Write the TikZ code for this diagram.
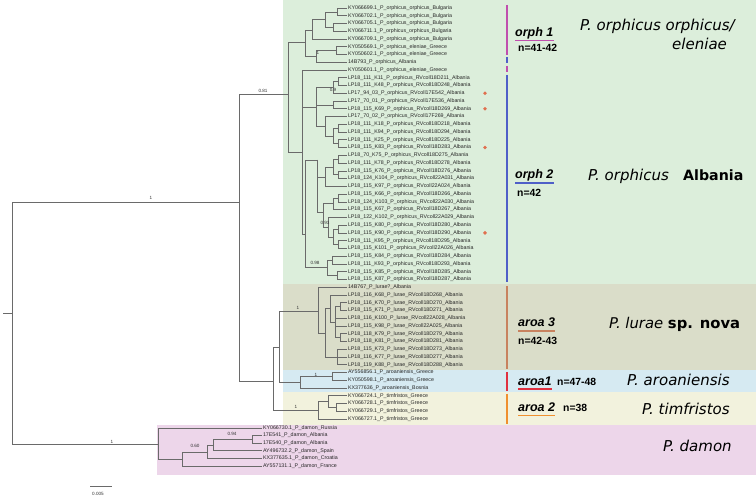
\documentclass[tikz,border=0pt]{standalone}
\usepackage{fontspec}
\setmainfont{Liberation Sans}
\newfontfamily\dvsans{DejaVu Sans}
\definecolor{brc}{HTML}{6A6A6A}
\definecolor{cgreen}{HTML}{DCEEDB}
\definecolor{ctan}{HTML}{DADDC9}
\definecolor{cblue}{HTML}{D6EAF2}
\definecolor{cyellow}{HTML}{F2F2DD}
\definecolor{cpink}{HTML}{EDD6EA}
\definecolor{cmag}{HTML}{C04FAE}
\definecolor{cblu}{HTML}{4F5FC8}
\definecolor{cbrown}{HTML}{C8825F}
\definecolor{cred}{HTML}{E0303F}
\definecolor{corange}{HTML}{F0902F}
\definecolor{cdot}{HTML}{E0704F}
\newcommand\lf[2]{\node[leaf] (L#1) at (347,{8+7.755*(#1-1)}) {#2}; \coordinate (t#1) at (L#1.west);}
\newcommand\lfd[3]{\node[leaf] (L#1) at (262,#2) {#3}; \coordinate (t#1) at (L#1.west);}
\newcommand\br[2]{\draw[br] (#1) |- (#2);}
\newcommand\nd[3]{\coordinate (#1) at (#2,#3);}
\begin{document}
\begin{tikzpicture}[x=1pt,y=-1pt,
  br/.style={draw=brc, line width=0.7pt},
  leaf/.style={anchor=west, inner sep=0.8pt, font=\fontsize{5.3}{6}\selectfont, text=black!85},
  suplab/.style={font=\fontsize{4.6}{5}\selectfont, inner sep=0pt, text=black!80},
  clade/.style={anchor=base west, inner sep=0pt, font=\bfseries\itshape\fontsize{12.5}{14}\selectfont},
  nlab/.style={anchor=base west, inner sep=0pt, font=\bfseries\fontsize{10.4}{12}\selectfont},
  spname/.style={anchor=base west, inner sep=0pt, font=\dvsans\itshape\fontsize{15}{17}\selectfont},
  bar/.style={line width=1.6pt},
  uline/.style={line width=1.2pt}]
\useasboundingbox (0,0) rectangle (756,497);
% backgrounds
\fill[cgreen] (283,0) rectangle (756,284);
\fill[ctan] (283,284) rectangle (756,370.5);
\fill[cblue] (283,370.5) rectangle (756,392.5);
\fill[cyellow] (283,392.5) rectangle (756,425.5);
\fill[cpink] (157,425.5) rectangle (756,475);
% leaves
\lf{1}{KY066699.1\_P\_orphicus\_orphicus\_Bulgaria}
\lf{2}{KY066702.1\_P\_orphicus\_orphicus\_Bulgaria}
\lf{3}{KY066705.1\_P\_orphicus\_orphicus\_Bulgaria}
\lf{4}{KY066711.1\_P\_orphicus\_orphicus\_Bulgaria}
\lf{5}{KY066709.1\_P\_orphicus\_orphicus\_Bulgaria}
\lf{6}{KY050569.1\_P\_orphicus\_eleniae\_Greece}
\lf{7}{KY050602.1\_P\_orphicus\_eleniae\_Greece}
\lf{8}{14B793\_P\_orphicus\_Albania}
\lf{9}{KY050601.1\_P\_orphicus\_eleniae\_Greece}
\lf{10}{LP18\_111\_K11\_P\_orphicus\_RVcoll18D211\_Albania}
\lf{11}{LP18\_111\_K48\_P\_orphicus\_RVcoll18D248\_Albania}
\lf{12}{LP17\_94\_03\_P\_orphicus\_RVcoll17E542\_Albania}
\lf{13}{LP17\_70\_01\_P\_orphicus\_RVcoll17E536\_Albania}
\lf{14}{LP18\_115\_K69\_P\_orphicus\_RVcoll18D269\_Albania}
\lf{15}{LP17\_70\_02\_P\_orphicus\_RVcoll17F269\_Albania}
\lf{16}{LP18\_111\_K18\_P\_orphicus\_RVcoll18D218\_Albania}
\lf{17}{LP18\_111\_K94\_P\_orphicus\_RVcoll18D294\_Albania}
\lf{18}{LP18\_111\_K25\_P\_orphicus\_RVcoll18D225\_Albania}
\lf{19}{LP18\_115\_K83\_P\_orphicus\_RVcoll18D283\_Albania}
\lf{20}{LP18\_70\_K75\_P\_orphicus\_RVcoll18D275\_Albania}
\lf{21}{LP18\_111\_K78\_P\_orphicus\_RVcoll18D278\_Albania}
\lf{22}{LP18\_115\_K76\_P\_orphicus\_RVcoll18D276\_Albania}
\lf{23}{LP18\_124\_K104\_P\_orphicus\_RVcoll22A031\_Albania}
\lf{24}{LP18\_115\_K97\_P\_orphicus\_RVcoll22A024\_Albania}
\lf{25}{LP18\_115\_K66\_P\_orphicus\_RVcoll18D266\_Albania}
\lf{26}{LP18\_124\_K103\_P\_orphicus\_RVcoll22A030\_Albania}
\lf{27}{LP18\_115\_K67\_P\_orphicus\_RVcoll18D267\_Albania}
\lf{28}{LP18\_122\_K102\_P\_orphicus\_RVcoll22A029\_Albania}
\lf{29}{LP18\_115\_K80\_P\_orphicus\_RVcoll18D280\_Albania}
\lf{30}{LP18\_115\_K90\_P\_orphicus\_RVcoll18D290\_Albania}
\lf{31}{LP18\_111\_K95\_P\_orphicus\_RVcoll18D295\_Albania}
\lf{32}{LP18\_115\_K101\_P\_orphicus\_RVcoll22A026\_Albania}
\lf{33}{LP18\_115\_K84\_P\_orphicus\_RVcoll18D284\_Albania}
\lf{34}{LP18\_111\_K93\_P\_orphicus\_RVcoll18D293\_Albania}
\lf{35}{LP18\_115\_K85\_P\_orphicus\_RVcoll18D285\_Albania}
\lf{36}{LP18\_115\_K87\_P\_orphicus\_RVcoll18D287\_Albania}
\lf{37}{14B767\_P\_lurae?\_Albania}
\lf{38}{LP18\_116\_K68\_P\_lurae\_RVcoll18D268\_Albania}
\lf{39}{LP18\_116\_K70\_P\_lurae\_RVcoll18D270\_Albania}
\lf{40}{LP18\_115\_K71\_P\_lurae\_RVcoll18D271\_Albania}
\lf{41}{LP18\_116\_K100\_P\_lurae\_RVcoll22A028\_Albania}
\lf{42}{LP18\_115\_K98\_P\_lurae\_RVcoll22A025\_Albania}
\lf{43}{LP18\_118\_K79\_P\_lurae\_RVcoll18D279\_Albania}
\lf{44}{LP18\_118\_K81\_P\_lurae\_RVcoll18D281\_Albania}
\lf{45}{LP18\_115\_K73\_P\_lurae\_RVcoll18D273\_Albania}
\lf{46}{LP18\_116\_K77\_P\_lurae\_RVcoll18D277\_Albania}
\lf{47}{LP18\_119\_K88\_P\_lurae\_RVcoll18D288\_Albania}
\lf{48}{AY556856.1\_P\_aroaniensis\_Greece}
\lf{49}{KY050598.1\_P\_aroaniensis\_Greece}
\lf{50}{KX377636\_P\_aroaniensis\_Bosnia}
\lf{51}{KY066724.1\_P\_timfristos\_Greece}
\lf{52}{KY066728.1\_P\_timfristos\_Greece}
\lf{53}{KY066729.1\_P\_timfristos\_Greece}
\lf{54}{KY066727.1\_P\_timfristos\_Greece}
\lfd{55}{428}{KY066730.1\_P\_damon\_Russia}
\lfd{56}{435.6}{17E541\_P\_damon\_Albania}
\lfd{57}{443.2}{17E540\_P\_damon\_Albania}
\lfd{58}{450.8}{AY496732.2\_P\_damon\_Spain}
\lfd{59}{458.4}{KX377635.1\_P\_damon\_Croatia}
\lfd{60}{466}{AY557131.1\_P\_damon\_France}
% internal nodes
\nd{R0}{3}{313} \nd{R}{12}{313}
\nd{I}{239}{202}
\nd{O}{288}{94}
\nd{T}{305}{42}
\nd{G15}{312}{30}
\nd{G1234}{325}{19.6}
\nd{G12}{337}{11.9}
\nd{G34}{333}{27.4}
\nd{G678}{316}{56.5}
\nd{G67}{336}{50.7}
\nd{B}{302}{152}
\nd{X}{316}{107}
\nd{Q1}{333}{87.5}
\nd{Q1a}{338}{81.7}
\nd{Q2}{333}{104.9}
\nd{Y}{325}{126.3}
\nd{Z}{333}{136}
\nd{Q3}{338}{128.2}
\nd{Q4}{338}{143.7}
\nd{C}{305}{234}
\nd{U}{317}{160}
\nd{V}{325}{177}
\nd{W}{333}{167}
\nd{Q5}{338}{159.2}
\nd{Q6}{338}{174.7}
\nd{R1}{323}{212}
\nd{S}{333}{203.8}
\nd{Q7}{338}{198}
\nd{R2}{328}{227.2}
\nd{M}{333}{237}
\nd{Q8}{338}{229}
\nd{Q9}{338}{244.5}
\nd{P2}{327}{267}
\nd{P2a}{332}{260}
\nd{P2b}{337}{275.5}
\nd{AC}{273}{381}
\nd{LA}{279}{347.5}
\nd{L}{318}{311}
\nd{L2}{325}{333}
\nd{L3}{330}{308.5}
\nd{L3a}{335}{322}
\nd{L3b}{340}{306.6}
\nd{L4a}{340}{337.6}
\nd{L4}{337}{357}
\nd{ARO}{300}{382}
\nd{AA}{332}{376.4}
\nd{TIM}{318}{410.3}
\nd{T1}{328}{401.6}
\nd{T2}{336}{407.4}
\nd{D}{158}{444}
\nd{D3}{182}{459}
\nd{D4}{207}{452}
\nd{D5}{213}{445.4}
\nd{D6}{252}{439.7}
% branches
\draw[br] (R0) -- (R);
\br{R}{I} \br{R}{D}
\br{I}{O} \br{I}{AC}
\br{O}{T} \br{O}{B}
\br{T}{G15} \br{T}{G678}
\br{G15}{G1234} \br{G15}{t5}
\br{G1234}{G12} \br{G1234}{G34}
\br{G12}{t1} \br{G12}{t2} \br{G34}{t3} \br{G34}{t4}
\br{G678}{G67} \br{G678}{t8} \br{G67}{t6} \br{G67}{t7}
\br{B}{t9} \br{B}{X} \br{B}{C}
\br{X}{Q1} \br{X}{Q2} \br{X}{Y}
\br{Q1}{Q1a} \br{Q1}{t12} \br{Q1a}{t10} \br{Q1a}{t11}
\br{Q2}{t13} \br{Q2}{t14}
\br{Y}{t15} \br{Y}{Z}
\br{Z}{Q3} \br{Z}{Q4} \br{Q3}{t16} \br{Q3}{t17} \br{Q4}{t18} \br{Q4}{t19}
\br{C}{U} \br{C}{P2}
\br{U}{V} \br{U}{R1}
\br{V}{W} \br{V}{t24}
\br{W}{Q5} \br{W}{Q6} \br{Q5}{t20} \br{Q5}{t21} \br{Q6}{t22} \br{Q6}{t23}
\br{R1}{S} \br{R1}{R2}
\br{S}{Q7} \br{S}{t27} \br{Q7}{t25} \br{Q7}{t26}
\br{R2}{t28} \br{R2}{M}
\br{M}{Q8} \br{M}{Q9} \br{Q8}{t29} \br{Q8}{t30} \br{Q9}{t31} \br{Q9}{t32}
\br{P2}{P2a} \br{P2}{P2b} \br{P2a}{t33} \br{P2a}{t34} \br{P2b}{t35} \br{P2b}{t36}
\br{AC}{LA} \br{AC}{TIM}
\br{LA}{L} \br{LA}{ARO}
\br{L}{t37} \br{L}{L2}
\br{L2}{L3} \br{L2}{L4}
\br{L3}{t38} \br{L3}{L3a}
\br{L3a}{L3b} \br{L3a}{t41} \br{L3a}{t42} \br{L3a}{L4a}
\br{L3b}{t39} \br{L3b}{t40} \br{L4a}{t43} \br{L4a}{t44}
\br{L4}{t45} \br{L4}{t46} \br{L4}{t47}
\br{ARO}{AA} \br{ARO}{t50} \br{AA}{t48} \br{AA}{t49}
\br{TIM}{T1} \br{TIM}{t54} \br{T1}{t51} \br{T1}{T2} \br{T2}{t52} \br{T2}{t53}
\br{D}{t55} \br{D}{D3}
\br{D3}{D4} \br{D3}{t60}
\br{D4}{D5} \br{D4}{t59}
\br{D5}{D6} \br{D5}{t58}
\br{D6}{t56} \br{D6}{t57}
% support values
\node[suplab] at (151,198) {1};
\node[suplab] at (263,91) {0.81};
\node[suplab] at (318,53) {1};
\node[suplab] at (333,90) {0.9};
\node[suplab] at (325,223) {0.93};
\node[suplab] at (315,263) {0.98};
\node[suplab] at (298,308) {1};
\node[suplab] at (316,375) {1};
\node[suplab] at (296,407) {1};
\node[suplab] at (112,442) {1};
\node[suplab] at (232,434) {0.94};
\node[suplab] at (195,446) {0.60};
% scale bar
\coordinate (sb1) at (90,486); \coordinate (sb2) at (112,486);
\draw[br] (sb1) -- (sb2);
\node[suplab] at (98,494) {0.005};
% dots
\foreach \i in {12,14,19,30} \fill[cdot] (485,{8+7.755*(\i-1)}) circle (1.9);
% bars
\draw[bar,cmag] (507,5) -- (507,55);
\draw[bar,cblu] (507,57) -- (507,63);
\draw[bar,cmag] (507,66) -- (507,72);
\draw[bar,cblu] (507,75) -- (507,282);
\draw[bar,cbrown] (507,286) -- (507,369);
\draw[bar,cred] (507,372) -- (507,391);
\draw[bar,corange] (507,394) -- (507,424);
% clade labels
\node[clade] (o1) at (515,37) {orph 1};
\draw[uline,cmag] ([yshift=-3.5pt]o1.base west) -- ([yshift=-3.5pt]o1.base east);
\node[nlab] (n1) at (518,52) {n=41-42};
\node[clade] (o2) at (515,179) {orph 2};
\draw[uline,cblu] ([yshift=-4pt]o2.base west) -- ([yshift=-4pt]o2.base east);
\node[nlab] (n2) at (517,197) {n=42};
\node[clade] (a3) at (518,327) {aroa 3};
\draw[uline,cbrown] ([yshift=-4pt]a3.base west) -- ([yshift=-4pt]a3.base east);
\node[nlab] (n3) at (518,345) {n=42-43};
\node[clade] (a1) at (518,385) {aroa1};
\draw[uline,cred] ([yshift=-4pt]a1.base west) -- ([yshift=-4pt]a1.base east);
\node[nlab] (n4) at (557,385) {n=47-48};
\node[clade] (a2) at (518,411) {aroa 2};
\draw[uline,corange] ([yshift=-4.5pt]a2.base west) -- ([yshift=-4.5pt]a2.base east);
\node[nlab] (n5) at (563,411) {n=38};
% species names
\node[spname] (s1) at (580,31) {P. orphicus orphicus/};
\node[spname] (s1b) at (672,50) {eleniae};
\node[spname] (s2) at (588,181) {P. orphicus};
\node[anchor=base west, inner sep=0pt, font=\dvsans\bfseries\fontsize{14.2}{16}\selectfont] (s2b) at (683,181) {Albania};
\node[anchor=base west, inner sep=0pt, font=\dvsans\fontsize{14.8}{17}\selectfont] (s3) at (609,329) {\itshape P. lurae \upshape\bfseries sp. nova};
\node[spname] (s4) at (627,386) {P. aroaniensis};
\node[spname] (s5) at (642,414) {P. timfristos};
\node[spname] (s6) at (663,451) {P. damon};
\end{tikzpicture}
\end{document}
